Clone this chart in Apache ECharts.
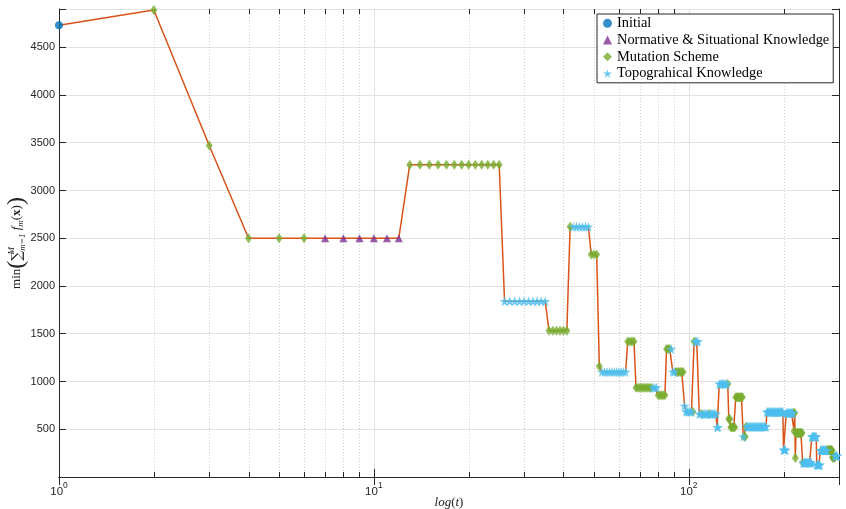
<!DOCTYPE html>
<html>
<head>
<meta charset="utf-8">
<script src="https://cdn.jsdelivr.net/npm/echarts@6/dist/echarts.min.js"></script>
<style>
  html, body { margin: 0; padding: 0; background: #ffffff; }
  #chart { width: 846px; height: 509px; }
</style>
</head>
<body>
<div id="chart"></div>
<script>
// Best objective value found at each iteration t = 1, 2, 3, ...
const fitness = [
  4730, 4890, 3470, 2500, 2500, 2500, 2500, 2500, 2500, 2500,   // t 1-10
  2500, 2500, 3270, 3270, 3270, 3270, 3270, 3270, 3270, 3270,   // t 11-20
  3270, 3270, 3270, 3270, 3270, 1840, 1840, 1840, 1840, 1840,   // t 21-30
  1840, 1840, 1840, 1840, 1840, 1530, 1530, 1530, 1530, 1530,   // t 31-40
  1530, 2620, 2620, 2620, 2620, 2620, 2620, 2620, 2330, 2330,   // t 41-50
  2330, 1160, 1100, 1100, 1100, 1100, 1100, 1100, 1100, 1100,   // t 51-60
  1100, 1100, 1100, 1420, 1420, 1420, 1420, 935, 935, 935,      // t 61-70
  935, 935, 935, 935, 935, 935, 935, 935, 935, 855,             // t 71-80
  855, 855, 855, 855, 1340, 1340, 1340, 1340, 1100, 1100,       // t 81-90
  1100, 1100, 1100, 1100, 1100, 1100, 743, 684, 684, 684,       // t 91-100
  684, 684, 684, 1420, 1420, 1420, 1420, 660, 660, 660,         // t 101-110
  660, 660, 660, 660, 660, 660, 660, 660, 660, 660,             // t 111-120
  660, 660, 520, 520, 975, 975, 975, 975, 975, 975,             // t 121-130
  975, 975, 975, 607, 607, 520, 520, 520, 520, 520,             // t 131-140
  835, 835, 835, 835, 835, 835, 835, 835, 422, 422,             // t 141-150
  422, 527, 527, 527, 527, 527, 527, 527, 527, 527,             // t 151-160
  527, 527, 527, 527, 527, 527, 527, 527, 527, 527,             // t 161-170
  527, 527, 527, 527, 527, 527, 680, 680, 680, 680,             // t 171-180
  680, 680, 680, 680, 680, 680, 680, 680, 680, 680,             // t 181-190
  680, 680, 680, 680, 680, 680, 680, 680, 680, 283,             // t 191-200
  283, 283, 283, 670, 670, 670, 670, 670, 670, 670,             // t 201-210
  670, 670, 670, 670, 670, 480, 670, 200, 460, 460,             // t 211-220
  460, 460, 460, 460, 460, 460, 460, 460, 460, 150,             // t 221-230
  150, 150, 150, 150, 150, 150, 150, 150, 150, 150,             // t 231-240
  150, 150, 150, 150, 150, 422, 422, 422, 422, 422,             // t 241-250
  422, 422, 422, 422, 126, 126, 126, 126, 126, 126,             // t 251-260
  126, 280, 280, 280, 280, 280, 280, 280, 280, 280,             // t 261-270
  280, 280, 280, 280, 280, 280, 280, 280, 280, 280,             // t 271-280
  280, 280, 280, 280, 280, 205, 205, 205, 205, 205,             // t 281-290
  205, 220, 220, 220, 220, 220                                  // t 291-296
];

// Operator that produced each iteration's value:
// I = Initial, N = Normative & Situational Knowledge, M = Mutation Scheme, T = Topograhical Knowledge
const operatorRows = [
  "IMMMMMNNNN", "NNMMMMMMMM", "MMMMMTTTTT", "TTTTTMMMMM", "MMTTTTTTMM",
  "MMTTTTTTTT", "TTTMMMMMMM", "MMMMMMTTTM", "MMMMMMMTTT", "MMMMMMTTTT",
  "TTMMTTTTTM", "TTTTTMTTTT", "TTTTTTTTTT", "TTMMMMMMMM", "MMMMMMMMTM",
  "MMTTTTTTTT", "TTTTTTTTTT", "TTTTTTTTTT", "TTTTTTTTTT", "TTTTTTTTTT",
  "TTTTTTTTTT", "TTTTMMMMMM", "MMMMMMMMMM", "TTTTTTTTTT", "TTTTTTTTTT",
  "TTTTTTTTTT", "TTTTTTTTTT", "TTTTMMMMMM", "MMMMMMMMMM", "MTTTTT"
];
const operator = operatorRows.join('').split('');

const seriesNames = {
  I: 'Initial',
  N: 'Normative & Situational Knowledge',
  M: 'Mutation Scheme',
  T: 'Topograhical Knowledge'
};

// Minor decade positions on the log axis
const minorTicks = [2, 3, 4, 5, 6, 7, 8, 9, 20, 30, 40, 50, 60, 70, 80, 90, 200];

const X_MIN = 1, X_MAX = 300;
const Y_MIN = 0, Y_MAX = 4900, Y_STEP = 500;

const points = fitness.map((v, i) => [i + 1, v]);
const pointsFor = code => points.filter((p, i) => operator[i] === code);

const AXIS_COLOR = '#262626';
const GRID_COLOR = '#e2e2e2';
const TEXT_COLOR = '#222222';
const STAR = 'path://M50,0 L61.2,34.5 L97.6,34.5 L68.2,55.9 L79.4,90.5 L50,69.1 L20.6,90.5 L31.8,55.9 L2.4,34.5 L38.8,34.5 Z';

const chart = echarts.init(document.getElementById('chart'), null, { renderer: 'canvas' });

function decadeLabel(v) {
  const e = Math.round(Math.log10(v));
  if (Math.abs(Math.pow(10, e) - v) > 1e-6 * v) return '';
  return '{b|10}{e|' + e + '}';
}

chart.setOption({
  animation: false,
  backgroundColor: '#ffffff',
  grid: { left: 59, right: 7, top: 9, bottom: 32, containLabel: false, outerBoundsMode: 'none' },
  legend: {
    data: [seriesNames.I, seriesNames.N, seriesNames.M, seriesNames.T],
    orient: 'vertical',
    left: 597,
    top: 14,
    backgroundColor: '#ffffff',
    borderColor: AXIS_COLOR,
    borderWidth: 1,
    borderRadius: 0,
    padding: [1, 4, 1, 6],
    itemGap: 0,
    itemWidth: 9,
    itemHeight: 9,
    itemTextGap: 7,
    selectedMode: false,
    textStyle: { fontFamily: 'Liberation Serif', fontSize: 14.4, color: '#000000', lineHeight: 16.7 }
  },
  xAxis: [
    {
      type: 'log', logBase: 10, min: X_MIN, max: X_MAX, position: 'bottom',
      axisLine: { lineStyle: { color: AXIS_COLOR, width: 1 } },
      axisTick: { inside: true, length: 8, lineStyle: { color: AXIS_COLOR } },
      axisLabel: {
        margin: 4,
        formatter: decadeLabel,
        rich: {
          b: { fontFamily: 'Liberation Sans', fontSize: 11.5, color: AXIS_COLOR, lineHeight: 17, verticalAlign: 'bottom' },
          e: { fontFamily: 'Liberation Sans', fontSize: 8.5, color: AXIS_COLOR, verticalAlign: 'top' }
        }
      },
      splitLine: { show: true, lineStyle: { color: GRID_COLOR, width: 1 } },
      name: '{i|log}{r|(}{i|t}{r|)}',
      nameLocation: 'middle',
      nameMoveOverlap: false,
      nameGap: 19,
      nameTextStyle: {
        rich: {
          i: { fontFamily: 'Liberation Serif', fontStyle: 'italic', fontSize: 13, color: TEXT_COLOR },
          r: { fontFamily: 'Liberation Serif', fontSize: 13, color: TEXT_COLOR }
        }
      }
    },
    {
      type: 'log', logBase: 10, min: X_MIN, max: X_MAX, position: 'top',
      axisLine: { lineStyle: { color: AXIS_COLOR, width: 1 } },
      axisTick: { inside: true, length: 8, lineStyle: { color: AXIS_COLOR } },
      axisLabel: { show: false },
      splitLine: { show: false }
    }
  ],
  yAxis: [
    {
      type: 'value', min: Y_MIN, max: Y_MAX, interval: Y_STEP, position: 'left',
      axisLine: { show: true, lineStyle: { color: AXIS_COLOR, width: 1 } },
      axisTick: { show: true, inside: true, length: 7, lineStyle: { color: AXIS_COLOR } },
      axisLabel: {
        margin: 4,
        fontFamily: 'Liberation Sans', fontSize: 11, color: AXIS_COLOR,
        formatter: v => (v > 0 && v % Y_STEP === 0) ? String(v) : ''
      },
      splitLine: { show: true, lineStyle: { color: GRID_COLOR, width: 1 } },
      name: '{r|min}{p|(}{s|∑}{sup|M}{sub|m=1}{i| f}{isub|m}{r|(}{b|x}{r|)}{p|)}',
      nameLocation: 'middle',
      nameMoveOverlap: false,
      nameRotate: 90,
      nameGap: 29,
      nameTextStyle: {
        rich: {
          r: { fontFamily: 'Liberation Serif', fontSize: 13, color: TEXT_COLOR },
          p: { fontFamily: 'Liberation Serif', fontSize: 24, color: TEXT_COLOR, lineHeight: 26 },
          s: { fontFamily: 'DejaVu Serif', fontSize: 14, color: TEXT_COLOR },
          sup: { fontFamily: 'Liberation Serif', fontStyle: 'italic', fontSize: 9, color: TEXT_COLOR, verticalAlign: 'top', width: 0, padding: [3, 0, 0, 0] },
          sub: { fontFamily: 'Liberation Serif', fontStyle: 'italic', fontSize: 9, color: TEXT_COLOR, verticalAlign: 'bottom', padding: [0, 0, 3, 0] },
          i: { fontFamily: 'Liberation Serif', fontStyle: 'italic', fontSize: 13, color: TEXT_COLOR },
          isub: { fontFamily: 'Liberation Serif', fontStyle: 'italic', fontSize: 9, color: TEXT_COLOR, verticalAlign: 'bottom', padding: [0, 0, 5, 0] },
          b: { fontFamily: 'Liberation Serif', fontWeight: 'bold', fontSize: 13, color: TEXT_COLOR }
        }
      }
    },
    {
      type: 'value', min: Y_MIN, max: Y_MAX, interval: Y_STEP, position: 'right',
      axisLine: { show: true, lineStyle: { color: AXIS_COLOR, width: 1 } },
      axisTick: { show: true, inside: true, length: 7, lineStyle: { color: AXIS_COLOR } },
      axisLabel: { show: false },
      splitLine: { show: false }
    }
  ],
  series: [
    {
      // dotted minor grid with small ticks on the bottom and top edges
      type: 'custom',
      silent: true,
      z: 1,
      data: minorTicks.map(v => [v, Y_MIN]),
      renderItem(params, api) {
        const v = api.value(0);
        const b = api.coord([v, Y_MIN]);
        const t = api.coord([v, Y_MAX]);
        const x = Math.round(b[0]) + 0.5;
        return {
          type: 'group',
          children: [
            { type: 'line', shape: { x1: x, y1: b[1], x2: x, y2: t[1] },
              style: { stroke: '#cfcfcf', lineWidth: 1, lineDash: [1, 2] } },
            { type: 'line', shape: { x1: x, y1: b[1], x2: x, y2: b[1] - 5 },
              style: { stroke: AXIS_COLOR, lineWidth: 1 } },
            { type: 'line', shape: { x1: x, y1: t[1], x2: x, y2: t[1] + 5 },
              style: { stroke: AXIS_COLOR, lineWidth: 1 } }
          ]
        };
      }
    },
    {
      type: 'line',
      data: points,
      symbol: 'none',
      silent: true,
      z: 2,
      lineStyle: { color: '#D95319', width: 1.5 }
    },
    {
      name: seriesNames.I, type: 'scatter', z: 3,
      data: pointsFor('I'), symbol: 'circle', symbolSize: 8,
      itemStyle: { color: '#0072BD' }
    },
    {
      name: seriesNames.N, type: 'scatter', z: 3,
      data: pointsFor('N'), symbol: 'triangle', symbolSize: [8, 8],
      itemStyle: { color: '#7E2F8E' }
    },
    {
      name: seriesNames.M, type: 'scatter', z: 3,
      data: pointsFor('M'), symbol: 'diamond', symbolSize: [7, 10],
      itemStyle: { color: '#77AC30' }
    },
    {
      name: seriesNames.T, type: 'scatter', z: 3,
      data: pointsFor('T'), symbol: STAR, symbolSize: 10,
      itemStyle: { color: '#4DBEEE' }
    }
  ]
});
</script>
</body>
</html>
